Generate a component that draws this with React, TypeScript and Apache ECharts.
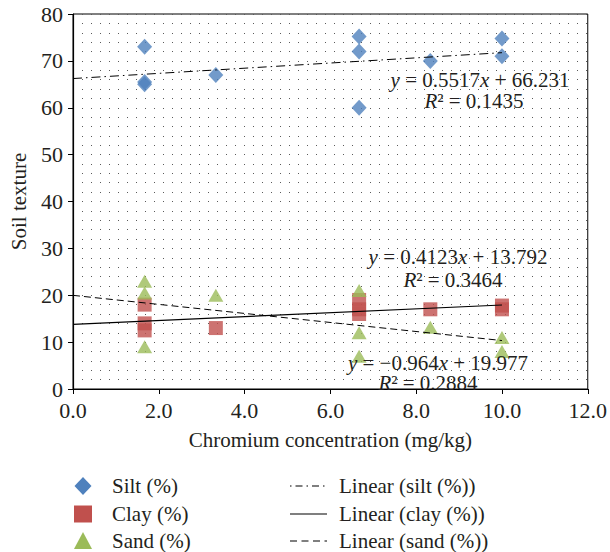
import React, { useEffect, useRef } from "react";
import * as echarts from "echarts";

const siltX = [1.67, 1.67, 1.67, 3.33, 6.67, 6.67, 6.67, 8.33, 10, 10];
const siltY = [73, 65.5, 65, 67, 75.2, 72, 60, 70, 74.8, 71];
const clayX = [1.67, 1.67, 1.67, 3.33, 6.67, 6.67, 6.67, 8.33, 10, 10];
const clayY = [18, 14, 12.5, 13, 19, 17, 16, 17, 17.8, 17];
const sandX = [1.67, 1.67, 1.67, 3.33, 6.67, 6.67, 6.67, 8.33, 10, 10];
const sandY = [23, 20.5, 9, 20, 21, 12, 7, 13.2, 11, 8];
const trendX = [0, 10];
const siltTrend = [66.231, 71.748];
const clayTrend = [13.792, 17.915];
const sandTrend = [19.977, 10.337];

const seriesNames = ["Silt (%)", "Clay (%)", "Sand (%)"];
const trendNames = ["Linear (silt (%))", "Linear (clay (%))", "Linear (sand (%))"];
const equations = [
  { coef: "0.5517", icpt: "+ 66.231", r2: "0.1435" },
  { coef: "0.4123", icpt: "+ 13.792", r2: "0.3464" },
  { coef: "\u22120.964", icpt: "+ 19.977", r2: "0.2884" },
];

const FONT = "Liberation Serif";
const TXT = "#231f20";
const COLORS = ["#4f81bd", "#c0504d", "#9bbb59"];
const FS = 21;

const zip = (xs: number[], ys: number[]) => xs.map((x, i) => [x, ys[i]]);

function eqText(idx: number, x: number, y: number, rx: number, ry: number) {
  const e = equations[idx];
  const rich = { i: { fontStyle: "italic", fontFamily: FONT, fontSize: FS, fill: TXT } };
  return [
    {
      type: "text",
      x,
      y,
      z: 100,
      style: {
        text: "{i|y} = " + e.coef + "{i|x} " + e.icpt,
        rich,
        fontFamily: FONT,
        fontSize: FS,
        fill: TXT,
        align: "center",
        verticalAlign: "middle",
      },
    },
    {
      type: "text",
      x: rx,
      y: ry,
      z: 100,
      style: {
        text: "{i|R}\u00b2 = " + e.r2,
        rich,
        fontFamily: FONT,
        fontSize: FS,
        fill: TXT,
        align: "center",
        verticalAlign: "middle",
      },
    },
  ];
}

function legendGraphics() {
  const rows = [486, 514, 541];
  const mx = 83;
  const g: any[] = [];
  g.push({
    type: "polygon",
    shape: { points: [[mx, rows[0] - 9], [mx + 8.5, rows[0]], [mx, rows[0] + 9], [mx - 8.5, rows[0]]] },
    style: { fill: COLORS[0] },
  });
  g.push({ type: "rect", shape: { x: mx - 9, y: rows[1] - 8.5, width: 18, height: 17 }, style: { fill: COLORS[1] } });
  g.push({
    type: "polygon",
    shape: { points: [[mx, rows[2] - 9], [mx + 9, rows[2] + 8], [mx - 9, rows[2] + 8]] },
    style: { fill: COLORS[2] },
  });
  seriesNames.forEach((n, i) =>
    g.push({
      type: "text",
      x: 112,
      y: rows[i],
      style: { text: n, fontFamily: FONT, fontSize: FS, fill: TXT, align: "left", verticalAlign: "middle" },
    })
  );
  const dashes: any[] = [[1.5, 4, 7, 4], null, [7, 4.5]];
  trendNames.forEach((n, i) => {
    g.push({
      type: "line",
      shape: { x1: 290, y1: rows[i], x2: 327, y2: rows[i] },
      style: { stroke: "#000", lineWidth: 1.2, lineDash: dashes[i] || undefined },
    });
    g.push({
      type: "text",
      x: 339,
      y: rows[i],
      style: { text: n, fontFamily: FONT, fontSize: FS, fill: TXT, align: "left", verticalAlign: "middle" },
    });
  });
  return g;
}

export default function App() {
  const ref = useRef<HTMLDivElement>(null);
  useEffect(() => {
    if (!ref.current) return;
    const chart = echarts.init(ref.current, undefined, { renderer: "svg" });
    const dotLine = { color: "#5a5a5a", width: 1, type: [1, 8] as any };
    chart.setOption({
      animation: false,
      backgroundColor: "#fff",
      textStyle: { fontFamily: FONT },
      grid: {
        left: 70,
        right: 17,
        top: 14,
        bottom: 163,
        show: true,
        borderColor: "#000",
        borderWidth: 1,
        backgroundColor: "transparent",
      },
      xAxis: {
        type: "value",
        min: 0,
        max: 12,
        interval: 2,
        name: "Chromium concentration (mg/kg)",
        nameLocation: "middle",
        nameGap: 40,
        nameTextStyle: { fontFamily: FONT, fontSize: FS, color: TXT },
        axisLine: { show: true, onZero: false, lineStyle: { color: "#000", width: 1.2 } },
        axisTick: { show: true, inside: false, length: 5, lineStyle: { color: "#000" } },
        axisLabel: { fontFamily: FONT, fontSize: 22, color: TXT, margin: 10, formatter: (v: number) => v.toFixed(1) },
        splitLine: { show: false },
      },
      yAxis: {
        type: "value",
        min: 0,
        max: 80,
        interval: 10,
        name: "Soil texture",
        nameLocation: "middle",
        nameGap: 44,
        nameRotate: 90,
        nameTextStyle: { fontFamily: FONT, fontSize: FS, color: TXT },
        axisLine: { show: true, onZero: false, lineStyle: { color: "#000", width: 1.2 } },
        axisTick: { show: true, inside: false, length: 5, lineStyle: { color: "#000" } },
        axisLabel: { fontFamily: FONT, fontSize: 22, color: TXT, margin: 10 },
        splitLine: { show: true, lineStyle: dotLine },
        minorTick: { show: false, splitNumber: 5 },
        minorSplitLine: { show: true, lineStyle: dotLine },
      },
      series: [
        {
          name: seriesNames[0],
          type: "scatter",
          symbol: "diamond",
          symbolSize: [15, 16],
          itemStyle: { color: COLORS[0] },
          data: zip(siltX, siltY),
          z: 5,
        },
        {
          name: seriesNames[1],
          type: "scatter",
          symbol: "rect",
          symbolSize: 14,
          itemStyle: { color: COLORS[1] },
          data: zip(clayX, clayY),
          z: 5,
        },
        {
          name: seriesNames[2],
          type: "scatter",
          symbol: "triangle",
          symbolSize: [15, 13],
          itemStyle: { color: COLORS[2] },
          data: zip(sandX, sandY),
          z: 5,
        },
        {
          name: trendNames[0],
          type: "line",
          symbol: "none",
          lineStyle: { color: "#000", width: 1, type: [9, 4, 1.5, 4] },
          data: zip(trendX, siltTrend),
          z: 6,
        },
        {
          name: trendNames[1],
          type: "line",
          symbol: "none",
          lineStyle: { color: "#000", width: 1.2, type: "solid" },
          data: zip(trendX, clayTrend),
          z: 6,
        },
        {
          name: trendNames[2],
          type: "line",
          symbol: "none",
          lineStyle: { color: "#000", width: 1, type: [7, 4] },
          data: zip(trendX, sandTrend),
          z: 6,
        },
      ],
      graphic: [
        ...eqText(0, 480, 80, 474, 101),
        ...eqText(1, 458, 257, 453, 280),
        ...eqText(2, 438, 363, 428, 383),
        ...legendGraphics(),
      ],
    });
    return () => chart.dispose();
  }, []);
  return <div ref={ref} style={{ position: "absolute", left: 0, top: 0, width: 610, height: 552 }} />;
}
